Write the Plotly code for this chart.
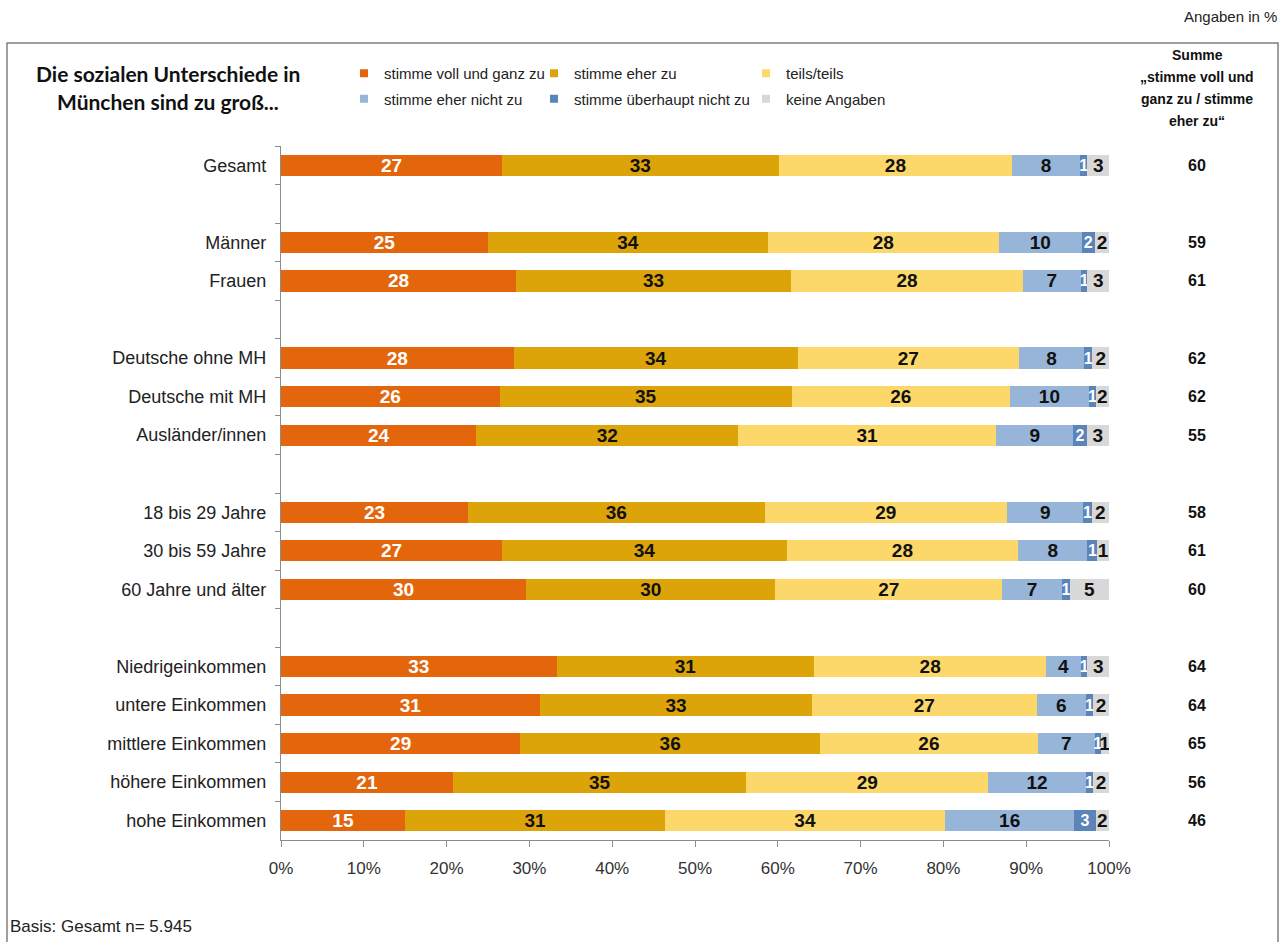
import plotly.graph_objects as go

# ---------------- data ----------------
categories = ["Gesamt", "Männer", "Frauen", "Deutsche ohne MH", "Deutsche mit MH",
              "Ausländer/innen", "18 bis 29 Jahre", "30 bis 59 Jahre", "60 Jahre und älter",
              "Niedrigeinkommen", "untere Einkommen", "mittlere Einkommen",
              "höhere Einkommen", "hohe Einkommen"]
# empty slots between the groups
category_order = ["Gesamt", " ", "Männer", "Frauen", "  ", "Deutsche ohne MH",
                  "Deutsche mit MH", "Ausländer/innen", "   ", "18 bis 29 Jahre",
                  "30 bis 59 Jahre", "60 Jahre und älter", "    ", "Niedrigeinkommen",
                  "untere Einkommen", "mittlere Einkommen", "höhere Einkommen",
                  "hohe Einkommen"]

series_names = ["stimme voll und ganz zu", "stimme eher zu", "teils/teils",
                "stimme eher nicht zu", "stimme überhaupt nicht zu", "keine Angaben"]

voll_und_ganz = [26.7, 25.0, 28.4, 28.1, 26.4, 23.6, 22.6, 26.7, 29.6, 33.3, 31.3, 28.9, 20.8, 15.0]
eher_zu       = [33.4, 33.8, 33.2, 34.3, 35.3, 31.6, 35.8, 34.4, 30.1, 31.1, 32.8, 36.2, 35.4, 31.4]
teils_teils   = [28.2, 27.9, 28.0, 26.7, 26.3, 31.2, 29.3, 27.9, 27.4, 28.0, 27.2, 26.3, 29.2, 33.8]
eher_nicht    = [8.2, 10.0, 7.0, 7.9, 9.6, 9.3, 9.2, 8.4, 7.2, 4.2, 5.9, 6.9, 11.8, 15.6]
ueberhaupt    = [0.9, 1.6, 0.8, 1.0, 0.8, 1.6, 1.0, 1.2, 1.0, 0.8, 0.9, 0.7, 0.9, 2.6]
keine_angaben = [2.6, 1.7, 2.6, 2.0, 1.6, 2.7, 2.1, 1.4, 4.7, 2.6, 1.9, 1.0, 1.9, 1.6]

summe = [60, 59, 61, 62, 62, 55, 58, 61, 60, 64, 64, 65, 56, 46]
summe_header = ["Summe", "„stimme voll und", "ganz zu / stimme", "eher zu“"]

x_ticks = [0, 10, 20, 30, 40, 50, 60, 70, 80, 90, 100]
x_tick_labels = ["0%", "10%", "20%", "30%", "40%", "50%", "60%", "70%", "80%", "90%", "100%"]

# ---------------- styles ----------------
colors = ["#E4660C", "#DDA40A", "#FBD869", "#97B5D8", "#5A84BA", "#D8D8D8"]
label_colors = ["#FFFFFF", "#111111", "#111111", "#111111", "#FFFFFF", "#111111"]
label_sizes = [19, 19, 19, 19, 16, 19]
SANS = "Liberation Sans, Arial, sans-serif"
BOLDF = "Lato, Open Sans, sans-serif"

W, H = 1281, 942
L, R, T, B = 281, 172, 146, 102
pw, ph = W - L - R, H - T - B


def px_x(p):
    return (p - L) / pw


def px_y(p):
    return (H - B - p) / ph


all_values = [voll_und_ganz, eher_zu, teils_teils, eher_nicht, ueberhaupt, keine_angaben]

fig = go.Figure()
for name, vals, col, lcol, lsz in zip(series_names, all_values, colors, label_colors, label_sizes):
    fig.add_trace(go.Bar(
        y=categories, x=vals, name=name, orientation="h",
        marker=dict(color=col, line=dict(width=0)),
        texttemplate="%{x:.0f}", textposition="inside", insidetextanchor="middle",
        textangle=0, constraintext="none",
        textfont=dict(family=SANS, size=lsz, color=lcol, weight="bold"),
        showlegend=False, hoverinfo="skip",
    ))

# legend entries (three columns of two)
legend_of = ["legend", "legend2", "legend3", "legend", "legend2", "legend3"]
for i, (name, col) in enumerate(zip(series_names, colors)):
    fig.add_trace(go.Scatter(
        x=[None], y=[None], mode="markers", name=name,
        marker=dict(symbol="square", size=8, color=col),
        legend=legend_of[i], legendgroup=f"g{i}", showlegend=True,
    ))

legend_common = dict(
    orientation="v", yanchor="top", xanchor="left", bgcolor="rgba(0,0,0,0)",
    font=dict(family=SANS, size=15, color="#222222"), itemwidth=30,
    tracegroupgap=3, y=px_y(57),
)
fig.update_layout(
    legend=dict(x=px_x(344), **legend_common),
    legend2=dict(x=px_x(534), **legend_common),
    legend3=dict(x=px_x(746), **legend_common),
)

# sum column
for cat, s in zip(categories, summe):
    fig.add_annotation(x=px_x(1197), xref="paper", xanchor="center", y=cat, yref="y",
                       yanchor="middle", text=f"<b>{s}</b>", showarrow=False,
                       font=dict(family=SANS, size=16, color="#111111"))

for line, yc in zip(summe_header, [55, 77, 99, 121]):
    fig.add_annotation(x=px_x(1197), xref="paper", xanchor="center", y=px_y(yc), yref="paper",
                       yanchor="middle", text=f"<b>{line}</b>", showarrow=False,
                       font=dict(family=SANS, size=14, color="#111111"))

for line, yc in zip(["Die sozialen Unterschiede in", "München sind zu groß..."], [73, 101]):
    fig.add_annotation(x=px_x(168), xref="paper", xanchor="center", y=px_y(yc), yref="paper",
                       yanchor="middle", text=f"<b>{line}</b>", showarrow=False,
                       font=dict(family=BOLDF, size=21, color="#111111"))

fig.add_annotation(x=px_x(1279), xref="paper", xanchor="right", y=px_y(16), yref="paper",
                   yanchor="middle", text="Angaben in %", showarrow=False,
                   font=dict(family=SANS, size=15, color="#222222"))

fig.add_annotation(x=px_x(8), xref="paper", xanchor="left", y=px_y(926), yref="paper",
                   yanchor="middle", text="Basis: Gesamt n= 5.945", showarrow=False,
                   font=dict(family=SANS, size=17, color="#222222"))

# frame
fig.add_shape(type="rect", xref="paper", yref="paper",
              x0=px_x(7), x1=px_x(1278), y0=px_y(960), y1=px_y(43),
              line=dict(color="#808080", width=1.5), fillcolor="rgba(0,0,0,0)", layer="below")

fig.update_layout(
    width=W, height=H, barmode="stack", bargap=0.45,
    margin=dict(l=L, r=R, t=T, b=B, autoexpand=False),
    paper_bgcolor="white", plot_bgcolor="white",
    xaxis=dict(range=[0, 100], tickvals=x_ticks, ticktext=x_tick_labels,
               showgrid=False, zeroline=False, showline=True, linecolor="#8c8c8c",
               linewidth=1.2, ticks="outside", ticklen=6, tickcolor="#8c8c8c",
               ticklabelstandoff=6,
               tickfont=dict(family=SANS, size=17, color="#333333"), fixedrange=True),
    yaxis=dict(type="category", categoryorder="array", categoryarray=category_order,
               autorange="reversed", showgrid=False, zeroline=False, showline=True,
               linecolor="#8c8c8c", linewidth=1.2, ticks="outside", ticklen=5,
               tickcolor="#8c8c8c", tickson="boundaries", ticklabelstandoff=10,
               tickfont=dict(family=SANS, size=18, color="#222222"), fixedrange=True),
)

fig.write_html("out.html", config={"displayModeBar": False},
               post_script="document.body.style.margin='0px';document.body.style.overflow='hidden';")
